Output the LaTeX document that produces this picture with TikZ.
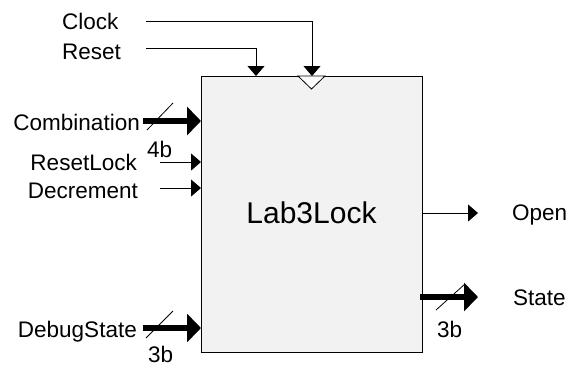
\documentclass[tikz,border=0pt]{standalone}
\usepackage{fontspec}
\setmainfont{Liberation Sans}
\usetikzlibrary{arrows.meta}
\definecolor{blockfill}{HTML}{F2F2F2}
\tikzset{
  sig/.style={font=\fontsize{22.5}{26}\selectfont, inner sep=0pt},
  wire/.style={line width=1pt, -{Triangle[length=10pt,width=17pt]}},
  bus/.style={line width=5.5pt, -{Triangle[length=14pt,width=28pt]}},
  slash/.style={line width=0.8pt},
  block/.style={draw, line width=1pt, fill=blockfill, minimum width=221pt,
    minimum height=276pt, anchor=north west, inner sep=0pt}
}
\begin{document}
\begin{tikzpicture}[x=1pt,y=-1pt]
\useasboundingbox (0,0) rectangle (569,365);

% the block
\node[block] (lock) at (201,76) {};
\node[font=\fontsize{30}{34}\selectfont, inner sep=0pt, anchor=base] (title) at (311.5,223) {Lab3Lock};

% signal names
\node[sig, anchor=base west] (clk) at (62,29) {Clock};
\node[sig, anchor=base west] (rst) at (62,59) {Reset};
\node[sig, anchor=base east] (comb) at (140,130) {Combination};
\node[sig, anchor=base east] (rlock) at (137,170) {ResetLock};
\node[sig, anchor=base east] (dec) at (138,198) {Decrement};
\node[sig, anchor=base east] (dbg) at (137,337) {DebugState};
\node[sig, anchor=base west] (open) at (512,220) {Open};
\node[sig, anchor=base west] (state) at (513,305) {State};

% bus widths
\node[sig, anchor=base west] (w4) at (147,157) {4b};
\node[sig, anchor=base west] (w3in) at (148,362) {3b};
\node[sig, anchor=base west] (w3out) at (437,337) {3b};

% wire end points
\coordinate (clk0) at (146,21);
\coordinate (clkin) at (312,76);
\coordinate (rst0) at (146,48);
\coordinate (rstin) at (256,76);
\coordinate (comb0) at (143,121);
\coordinate (combin) at (201,121);
\coordinate (rlock0) at (160,162);
\coordinate (rlockin) at (201,162);
\coordinate (dec0) at (160,188);
\coordinate (decin) at (201,188);
\coordinate (dbg0) at (143,328);
\coordinate (dbgin) at (201,328);
\coordinate (openout) at (422,213);
\coordinate (open1) at (478,213);
\coordinate (stateout) at (420,297);
\coordinate (state1) at (478,297);

% clock input marker
\draw[line width=0.8pt, fill=white] (298,76) -- (325,76) -- (311.5,89) -- cycle;

% inputs
\draw[wire] (clk0) -| (clkin);
\draw[wire] (rst0) -| (rstin);
\draw[bus] (comb0) -- (combin);
\draw[wire] (rlock0) -- (rlockin);
\draw[wire] (dec0) -- (decin);
\draw[bus] (dbg0) -- (dbgin);

% outputs
\draw[wire] (openout) -- (open1);
\draw[bus] (stateout) -- (state1);

% bus slashes
\draw[slash] (147,130) -- (173,103);
\draw[slash] (146,338) -- (173,311);
\draw[slash] (436,310) -- (465,284);
\end{tikzpicture}
\end{document}
